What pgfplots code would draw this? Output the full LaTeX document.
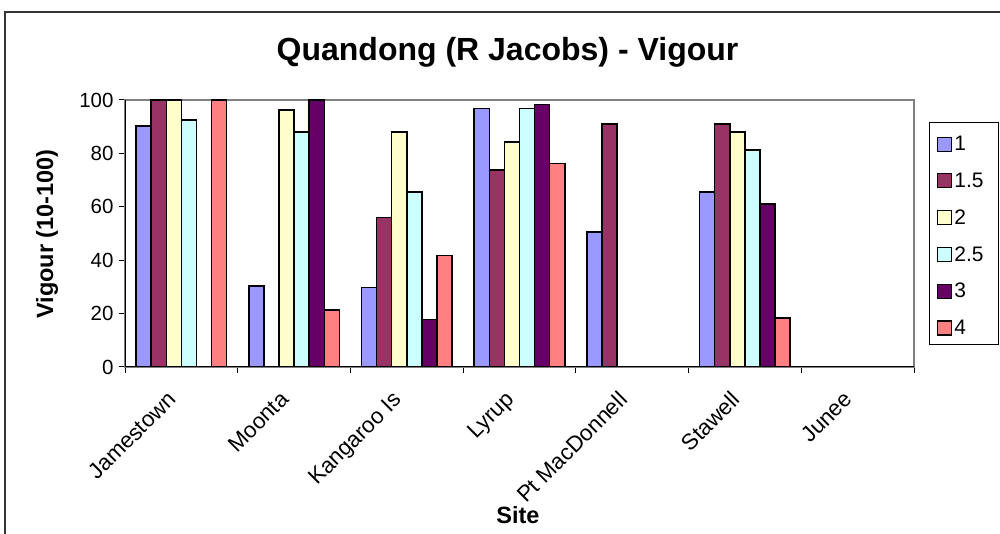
\documentclass[border=0pt]{standalone}
\usepackage{fontspec}
\setmainfont{Liberation Sans}
\usepackage{pgfplots}
\pgfplotsset{compat=1.18}
\definecolor{sA}{HTML}{9999FF}
\definecolor{sB}{HTML}{993366}
\definecolor{sC}{HTML}{FFFFCC}
\definecolor{sD}{HTML}{CCFFFF}
\definecolor{sE}{HTML}{660066}
\definecolor{sF}{HTML}{FF8080}
\begin{document}
\begin{tikzpicture}[x=1pt,y=1pt]
\useasboundingbox (0,0) rectangle (1000,534);
\draw[line width=2pt, color=black!80] (5,-5) -- (5,522) -- (1005,522);
\node[font=\bfseries\fontsize{32}{38}\selectfont] at (507.5,482) {Quandong (R Jacobs) - Vigour};
\node[font=\bfseries\fontsize{23.5}{28}\selectfont, rotate=90] at (47,300) {Vigour (10-100)};
\node[font=\bfseries\fontsize{23.5}{28}\selectfont] at (518,19) {Site};
\draw[line width=1pt, black] (929.5,411) rectangle (998.5,189);
\begin{axis}[
  at={(125pt,167pt)}, anchor=south west, scale only axis,
  width=789pt, height=267pt,
  xmin=-0.5, xmax=6.5, ymin=0, ymax=100,
  ybar=0pt, bar width=15.1pt,
  axis line style={draw=gray, line width=1.5pt},
  ytick={0,20,...,100},
  xtick={0,...,6},
  xticklabels={Jamestown,Moonta,Kangaroo Is,Lyrup,Pt MacDonnell,Stawell,Junee},
  minor xtick={-0.5,0.5,...,6.5},
  tick pos=left,
  tick align=outside,
  major tick length=6pt,
  x tick style={draw=none},
  minor x tick style={draw=black, line width=1pt},
  y tick style={draw=black, line width=1pt},
  minor tick length=6pt,
  /pgf/number format/assume math mode=true,
  yticklabel style={font=\fontsize{20.5}{24}\selectfont, xshift=-2pt},
  xticklabel style={font=\fontsize{22.3}{26}\selectfont, xshift=-15pt, yshift=-12pt, rotate=45, anchor=north east},
  every axis plot/.append style={draw=black, line width=1.5pt},
  legend image code/.code={\draw[#1, line width=1.2pt] (0pt,-7pt) rectangle (14pt,7pt);},
  legend style={at={(1.0291,0.8951)}, anchor=north west, draw=none, fill=none,
    font=\fontsize{21}{25}\selectfont, row sep=16.7pt, inner xsep=0pt, inner ysep=6pt,
    /tikz/every even column/.append style={column sep=5pt}},
  legend cell align=left,
]
\addplot[fill=sA] coordinates {(0,90.3) (1,30.4) (2,29.8) (3,96.9) (4,50.6) (5,65.6)};
\addplot[fill=sB] coordinates {(0,100) (2,56) (3,73.8) (4,91) (5,91)};
\addplot[fill=sC] coordinates {(0,100) (1,96.3) (2,88) (3,84.3) (5,88)};
\addplot[fill=sD] coordinates {(0,92.5) (1,88) (2,65.6) (3,96.9) (5,81.3)};
\addplot[fill=sE] coordinates {(1,100) (2,17.8) (3,98.4) (5,61.1)};
\addplot[fill=sF] coordinates {(0,100) (1,21.4) (2,41.8) (3,76.2) (5,18.4)};
\legend{1,1.5,2,2.5,3,4}
\draw[black, line width=1.5pt] (rel axis cs:0,1) -- (rel axis cs:0,0) -- (rel axis cs:1,0);
\end{axis}
\end{tikzpicture}
\end{document}
